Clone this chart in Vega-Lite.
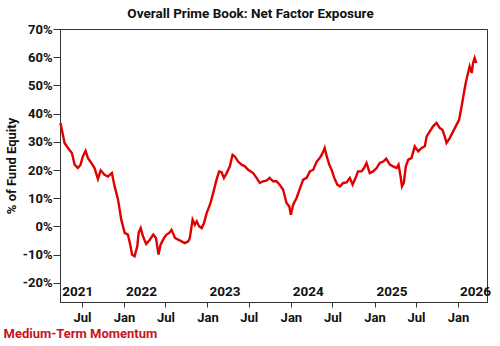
{
  "$schema": "https://vega.github.io/schema/vega-lite/v6.json",
  "width": 427,
  "height": 273,
  "autosize": {"type": "none"},
  "padding": {"left": 60, "top": 29, "right": 13, "bottom": 44},
  "background": "white",
  "config": {
    "font": "Roboto, sans-serif",
    "view": {"stroke": "#333", "strokeWidth": 1},
    "axis": {"grid": false, "domainColor": "#333", "tickColor": "#333", "labelColor": "#111", "titleColor": "#111", "labelFont": "Roboto, sans-serif", "titleFont": "Roboto, sans-serif"}
  },
  "title": {
    "text": "Overall Prime Book: Net Factor Exposure",
    "fontSize": 13.5,
    "fontWeight": "bold",
    "color": "#111",
    "anchor": "middle",
    "dx": -23,
    "offset": 3,
    "font": "Roboto, sans-serif"
  },
  "datasets": {
    "series": [
      {"date": "2021-03-29", "v": 36.7},
      {"date": "2021-04-16", "v": 29.6},
      {"date": "2021-05-01", "v": 27.8},
      {"date": "2021-05-18", "v": 26.0},
      {"date": "2021-05-30", "v": 21.9},
      {"date": "2021-06-13", "v": 20.7},
      {"date": "2021-06-25", "v": 21.9},
      {"date": "2021-07-05", "v": 24.8},
      {"date": "2021-07-17", "v": 26.8},
      {"date": "2021-07-27", "v": 24.3},
      {"date": "2021-08-11", "v": 22.5},
      {"date": "2021-08-25", "v": 20.7},
      {"date": "2021-09-09", "v": 16.8},
      {"date": "2021-09-21", "v": 19.9},
      {"date": "2021-10-08", "v": 18.3},
      {"date": "2021-10-23", "v": 17.7},
      {"date": "2021-11-09", "v": 18.9},
      {"date": "2021-11-21", "v": 14.2},
      {"date": "2021-12-06", "v": 9.5},
      {"date": "2021-12-20", "v": 2.4},
      {"date": "2022-01-04", "v": -2.3},
      {"date": "2022-01-18", "v": -2.9},
      {"date": "2022-01-30", "v": -7.1},
      {"date": "2022-02-05", "v": -10.0},
      {"date": "2022-02-16", "v": -10.6},
      {"date": "2022-02-28", "v": -7.1},
      {"date": "2022-03-06", "v": -2.3},
      {"date": "2022-03-15", "v": -0.6},
      {"date": "2022-03-25", "v": -3.5},
      {"date": "2022-04-08", "v": -6.2},
      {"date": "2022-04-24", "v": -4.7},
      {"date": "2022-05-09", "v": -2.9},
      {"date": "2022-05-21", "v": -4.1},
      {"date": "2022-06-01", "v": -10.0},
      {"date": "2022-06-10", "v": -6.5},
      {"date": "2022-06-25", "v": -4.1},
      {"date": "2022-07-06", "v": -2.9},
      {"date": "2022-07-18", "v": -2.3},
      {"date": "2022-07-28", "v": -1.2},
      {"date": "2022-08-12", "v": -4.1},
      {"date": "2022-08-26", "v": -4.7},
      {"date": "2022-09-10", "v": -5.3},
      {"date": "2022-09-24", "v": -5.9},
      {"date": "2022-10-09", "v": -5.3},
      {"date": "2022-10-16", "v": -4.1},
      {"date": "2022-10-28", "v": 2.4},
      {"date": "2022-11-07", "v": 0.6},
      {"date": "2022-11-15", "v": 1.8},
      {"date": "2022-11-26", "v": 0.0},
      {"date": "2022-12-07", "v": -0.6},
      {"date": "2022-12-17", "v": 1.2},
      {"date": "2022-12-29", "v": 4.8},
      {"date": "2023-01-12", "v": 7.7},
      {"date": "2023-01-26", "v": 11.8},
      {"date": "2023-02-10", "v": 16.6},
      {"date": "2023-02-21", "v": 19.5},
      {"date": "2023-03-04", "v": 19.2},
      {"date": "2023-03-14", "v": 17.2},
      {"date": "2023-03-26", "v": 18.9},
      {"date": "2023-04-09", "v": 21.3},
      {"date": "2023-04-21", "v": 25.4},
      {"date": "2023-05-01", "v": 24.8},
      {"date": "2023-05-15", "v": 23.0},
      {"date": "2023-05-30", "v": 21.9},
      {"date": "2023-06-14", "v": 21.3},
      {"date": "2023-06-28", "v": 20.1},
      {"date": "2023-07-20", "v": 18.9},
      {"date": "2023-08-04", "v": 17.2},
      {"date": "2023-08-18", "v": 15.4},
      {"date": "2023-09-01", "v": 16.0},
      {"date": "2023-09-16", "v": 16.2},
      {"date": "2023-09-30", "v": 17.2},
      {"date": "2023-10-15", "v": 16.0},
      {"date": "2023-10-30", "v": 16.0},
      {"date": "2023-11-13", "v": 14.8},
      {"date": "2023-11-28", "v": 13.0},
      {"date": "2023-12-13", "v": 8.3},
      {"date": "2023-12-25", "v": 7.1},
      {"date": "2024-01-01", "v": 4.1},
      {"date": "2024-01-11", "v": 7.7},
      {"date": "2024-01-26", "v": 10.1},
      {"date": "2024-02-09", "v": 13.3},
      {"date": "2024-02-24", "v": 16.6},
      {"date": "2024-03-10", "v": 17.2},
      {"date": "2024-03-24", "v": 19.5},
      {"date": "2024-04-08", "v": 20.1},
      {"date": "2024-04-23", "v": 23.0},
      {"date": "2024-05-07", "v": 24.3},
      {"date": "2024-05-19", "v": 26.0},
      {"date": "2024-05-28", "v": 27.8},
      {"date": "2024-06-06", "v": 24.8},
      {"date": "2024-06-17", "v": 21.9},
      {"date": "2024-06-27", "v": 20.1},
      {"date": "2024-07-09", "v": 17.2},
      {"date": "2024-07-22", "v": 14.8},
      {"date": "2024-08-03", "v": 14.2},
      {"date": "2024-08-17", "v": 15.4},
      {"date": "2024-09-01", "v": 15.6},
      {"date": "2024-09-15", "v": 17.2},
      {"date": "2024-09-27", "v": 14.8},
      {"date": "2024-10-07", "v": 16.6},
      {"date": "2024-10-21", "v": 19.5},
      {"date": "2024-11-05", "v": 19.5},
      {"date": "2024-11-16", "v": 20.7},
      {"date": "2024-11-27", "v": 22.5},
      {"date": "2024-12-11", "v": 18.9},
      {"date": "2024-12-26", "v": 19.5},
      {"date": "2025-01-10", "v": 20.7},
      {"date": "2025-01-24", "v": 22.5},
      {"date": "2025-02-08", "v": 23.0},
      {"date": "2025-02-21", "v": 24.0},
      {"date": "2025-03-09", "v": 21.9},
      {"date": "2025-03-23", "v": 21.3},
      {"date": "2025-04-07", "v": 20.7},
      {"date": "2025-04-16", "v": 21.9},
      {"date": "2025-04-25", "v": 17.7},
      {"date": "2025-05-01", "v": 14.2},
      {"date": "2025-05-09", "v": 15.4},
      {"date": "2025-05-18", "v": 21.3},
      {"date": "2025-05-28", "v": 23.6},
      {"date": "2025-06-12", "v": 24.3},
      {"date": "2025-06-26", "v": 28.4},
      {"date": "2025-07-11", "v": 26.6},
      {"date": "2025-07-26", "v": 27.8},
      {"date": "2025-08-09", "v": 28.4},
      {"date": "2025-08-17", "v": 31.9},
      {"date": "2025-08-31", "v": 33.7},
      {"date": "2025-09-14", "v": 35.5},
      {"date": "2025-09-29", "v": 36.7},
      {"date": "2025-10-13", "v": 34.9},
      {"date": "2025-10-25", "v": 34.3},
      {"date": "2025-11-04", "v": 31.9},
      {"date": "2025-11-12", "v": 29.6},
      {"date": "2025-11-26", "v": 31.3},
      {"date": "2025-12-11", "v": 33.7},
      {"date": "2025-12-26", "v": 36.1},
      {"date": "2026-01-06", "v": 37.8},
      {"date": "2026-01-17", "v": 42.6},
      {"date": "2026-01-27", "v": 47.3},
      {"date": "2026-02-04", "v": 50.9},
      {"date": "2026-02-14", "v": 54.4},
      {"date": "2026-02-21", "v": 56.7},
      {"date": "2026-03-02", "v": 54.4},
      {"date": "2026-03-08", "v": 57.9},
      {"date": "2026-03-15", "v": 59.7},
      {"date": "2026-03-22", "v": 57.9}
    ],
    "years": [
      {"date": "2021-03-28", "v": -23.4, "label": "2021"},
      {"date": "2022-01-01", "v": -23.4, "label": "2022"},
      {"date": "2023-01-01", "v": -23.4, "label": "2023"},
      {"date": "2024-01-01", "v": -23.4, "label": "2024"},
      {"date": "2025-01-01", "v": -23.4, "label": "2025"},
      {"date": "2026-01-01", "v": -23.4, "label": "2026"}
    ]
  },
  "encoding": {
    "x": {
      "field": "date",
      "type": "temporal",
      "scale": {"domain": ["2021-03-27", "2026-05-08"]},
      "axis": {
        "values": [
          {"year": 2021, "month": 7, "date": 1},
          {"year": 2022, "month": 1, "date": 1},
          {"year": 2022, "month": 7, "date": 1},
          {"year": 2023, "month": 1, "date": 1},
          {"year": 2023, "month": 7, "date": 1},
          {"year": 2024, "month": 1, "date": 1},
          {"year": 2024, "month": 7, "date": 1},
          {"year": 2025, "month": 1, "date": 1},
          {"year": 2025, "month": 7, "date": 1},
          {"year": 2026, "month": 1, "date": 1}
        ],
        "labelExpr": "timeFormat(datum.value, '%b')",
        "tickSize": 5,
        "labelPadding": 4,
        "labelFontSize": 13,
        "labelFontWeight": "bold",
        "labelFlush": false,
        "labelOverlap": false,
        "title": "Medium-Term Momentum",
        "titleColor": "#c8141e",
        "titleFontSize": 13,
        "titleFontWeight": "bold",
        "titleAnchor": "start",
        "titleAlign": "left",
        "titleBaseline": "middle",
        "titleX": -57,
        "titleY": 31
      }
    },
    "y": {
      "field": "v",
      "type": "quantitative",
      "scale": {"domain": [-26.8, 70], "nice": false, "zero": false},
      "axis": {
        "values": [-20, -10, 0, 10, 20, 30, 40, 50, 60, 70],
        "labelExpr": "datum.value + '%'",
        "tickSize": 7,
        "labelPadding": 1,
        "labelFontSize": 13,
        "labelFontWeight": "bold",
        "labelFlush": false,
        "title": "% of Fund Equity",
        "titleFontSize": 13,
        "titleFontWeight": "bold",
        "titlePadding": 4
      }
    }
  },
  "layer": [
    {
      "data": {"name": "series"},
      "mark": {"type": "line", "color": "#e00000", "strokeWidth": 2.4, "interpolate": "linear"}
    },
    {
      "data": {"name": "years"},
      "mark": {"type": "text", "align": "left", "baseline": "middle", "dx": 2, "fontSize": 13.5, "fontWeight": "bold", "color": "#111", "clip": false},
      "encoding": {"text": {"field": "label", "type": "nominal"}}
    }
  ]
}
